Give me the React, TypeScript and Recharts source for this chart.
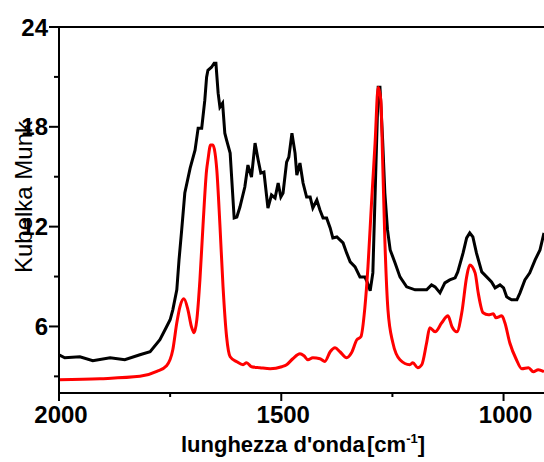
import React from "react";
import { LineChart, Line, XAxis, YAxis, ReferenceLine } from "recharts";

// wavenumber (cm-1) and Kubelka-Munk values
const blackWn = [
  2000, 1987, 1953, 1924, 1885, 1852, 1818, 1795, 1773, 1758, 1750, 1744, 1735, 1730, 1724, 1717,
  1705, 1694, 1687, 1679, 1672, 1668, 1665, 1657, 1651, 1647, 1642, 1638, 1632, 1627, 1623, 1615,
  1606, 1600, 1593, 1582, 1575, 1567, 1559, 1552, 1546, 1539, 1530, 1522, 1514, 1507, 1501, 1496,
  1488, 1483, 1476, 1469, 1465, 1458, 1451, 1443, 1435, 1429, 1420, 1413, 1406, 1398, 1390, 1384,
  1375, 1368, 1361, 1353, 1345, 1334, 1323, 1312, 1307, 1300, 1294, 1288, 1282, 1278, 1272, 1267,
  1261, 1255, 1244, 1233, 1218, 1199, 1188, 1173, 1162, 1154, 1143, 1132, 1121, 1109, 1103, 1091,
  1083, 1076, 1069, 1061, 1049, 1038, 1027, 1019, 1008, 1000, 993, 982, 970, 963, 952, 941, 929,
  918, 909,
];
const blackK = [
  4.3, 4.12, 4.18, 3.94, 4.12, 4.0, 4.3, 4.48, 5.2, 5.98, 6.4, 7.0, 8.2, 10.0, 11.8, 14.02,
  15.52, 16.6, 17.92, 17.92, 19.6, 20.98, 21.4, 21.58, 21.82, 21.82, 20.02, 19.18, 19.42, 17.62, 17.2, 16.42,
  12.52, 12.58, 13.18, 14.38, 15.7, 14.98, 17.02, 16.0, 15.22, 15.28, 13.12, 13.9, 13.72, 14.62, 13.78, 14.02,
  15.88, 16.18, 17.62, 16.42, 15.1, 15.82, 14.62, 13.78, 13.78, 13.12, 13.6, 13.0, 12.52, 12.52, 11.92, 11.32,
  11.38, 11.2, 11.02, 10.42, 9.88, 9.58, 8.98, 8.98, 8.68, 8.14, 9.22, 14.8, 20.38, 20.38, 17.2, 14.02,
  11.8, 10.6, 9.82, 8.98, 8.38, 8.2, 8.2, 8.2, 8.5, 8.38, 8.02, 8.62, 8.8, 8.92, 9.28, 10.42,
  11.32, 11.62, 11.38, 10.42, 9.28, 8.98, 8.68, 8.32, 8.5, 8.32, 7.78, 7.6, 7.6, 8.02, 8.8, 9.22, 10.0,
  10.6, 11.62,
];

const redWn = [
  2000, 1908, 1818, 1780, 1758, 1744, 1735, 1728, 1719, 1710, 1702, 1696, 1690, 1683, 1676, 1668,
  1665, 1659, 1654, 1649, 1645, 1638, 1631, 1623, 1615, 1600, 1586, 1578, 1567, 1548, 1525, 1499,
  1488, 1474, 1458, 1449, 1440, 1429, 1413, 1402, 1390, 1379, 1368, 1353, 1342, 1330, 1321, 1312,
  1305, 1297, 1289, 1282, 1276, 1272, 1267, 1260, 1249, 1233, 1211, 1204, 1193, 1184, 1173, 1166,
  1154, 1139, 1125, 1116, 1105, 1094, 1083, 1076, 1064, 1057, 1046, 1034, 1023, 1017, 1004, 997,
  986, 971, 959, 944, 933, 922, 909,
];
const redK = [
  2.8, 2.86, 3.0, 3.3, 3.64, 4.6, 6.22, 7.18, 7.66, 7.0, 5.98, 5.62, 6.4, 8.8, 12.1, 15.4,
  16.0, 16.9, 16.9, 16.42, 15.4, 12.1, 8.38, 5.38, 4.18, 3.88, 3.7, 3.82, 3.58, 3.52, 3.46, 3.58,
  3.7, 4.06, 4.36, 4.24, 4.0, 4.12, 4.06, 3.9, 4.48, 4.72, 4.48, 4.12, 4.42, 5.2, 5.38, 7.12,
  9.58, 13.42, 17.02, 20.38, 19.6, 16.0, 11.2, 7.0, 5.02, 4.0, 3.7, 3.82, 3.52, 3.7, 5.02, 5.92,
  5.68, 6.22, 6.64, 5.98, 5.68, 6.82, 8.98, 9.7, 9.22, 8.02, 6.82, 6.7, 6.76, 6.52, 6.64, 6.22,
  5.02, 4.0, 3.46, 3.52, 3.28, 3.4, 3.28,
];

const xTicks = [2000, 1750, 1500, 1250, 1000];
const xLabels = [2000, 1500, 1000];
const yTicks = [3, 6, 9, 12, 15, 18, 21, 24];
const yLabels = [6, 12, 18, 24];

const blackData = blackWn.map((wn, i) => ({ wn, k: blackK[i] }));
const redData = redWn.map((wn, i) => ({ wn, k: redK[i] }));

const FONT = "'Liberation Sans', Arial, sans-serif";

const YTick = (props: any) => {
  const { x, y, payload } = props;
  const major = yLabels.includes(payload.value);
  return (
    <g>
      <line x1={x} x2={x - (major ? 10 : 5)} y1={y} y2={y} stroke="#000" strokeWidth={2} />
      {major && (
        <text x={x - 11} y={y} dy="0.36em" textAnchor="end" fontFamily={FONT} fontWeight="bold" fontSize={24} fill="#000">
          {payload.value}
        </text>
      )}
    </g>
  );
};

const XTick = (props: any) => {
  const { x, y, payload } = props;
  const major = xLabels.includes(payload.value);
  return (
    <g>
      <line x1={x} x2={x} y1={y} y2={y + (major ? 8 : 4)} stroke="#000" strokeWidth={2} />
      {major && (
        <text x={x + 2} y={y + 30} textAnchor="middle" fontFamily={FONT} fontWeight="bold" fontSize={24} fill="#000">
          {payload.value}
        </text>
      )}
    </g>
  );
};

export default function App() {
  return (
    <div style={{ position: "absolute", left: 0, top: 0, width: 544, height: 462, background: "#fff" }}>
      <LineChart width={544} height={462} margin={{ top: 27, right: 0, bottom: 0, left: 0 }}>
        <XAxis
          type="number"
          dataKey="wn"
          domain={[909, 2000]}
          reversed
          allowDataOverflow
          ticks={xTicks}
          interval={0}
          height={69}
          tickSize={0}
          tickMargin={0}
          tick={<XTick />}
          axisLine={{ stroke: "#000", strokeWidth: 2 }}
        />
        <YAxis
          type="number"
          domain={[2, 24]}
          allowDataOverflow
          ticks={yTicks}
          interval={0}
          width={59}
          tickSize={0}
          tickMargin={0}
          tick={<YTick />}
          axisLine={{ stroke: "#000", strokeWidth: 2 }}
        />
        <ReferenceLine y={24} stroke="#000" strokeWidth={2} />
        <Line data={blackData} dataKey="k" type="linear" stroke="#000" strokeWidth={3} dot={false} isAnimationActive={false} />
        <Line data={redData} dataKey="k" type="monotone" stroke="#ff0000" strokeWidth={3} dot={false} isAnimationActive={false} />
      </LineChart>
      <svg width={544} height={462} style={{ position: "absolute", left: 0, top: 0, pointerEvents: "none" }}>
        <text transform="translate(32,197) rotate(-90)" textAnchor="middle" fontFamily={FONT} fontSize={24} fill="#000">
          Kubelka Munk
        </text>
        <text x={181} y={452} fontFamily={FONT} fontWeight="bold" fontSize={22} fill="#000">
          <tspan>lunghezza d'onda</tspan>
          <tspan x={367}>[cm</tspan>
          <tspan dy={-9} fontSize={13}>-1</tspan>
          <tspan dy={9}>]</tspan>
        </text>
      </svg>
    </div>
  );
}
